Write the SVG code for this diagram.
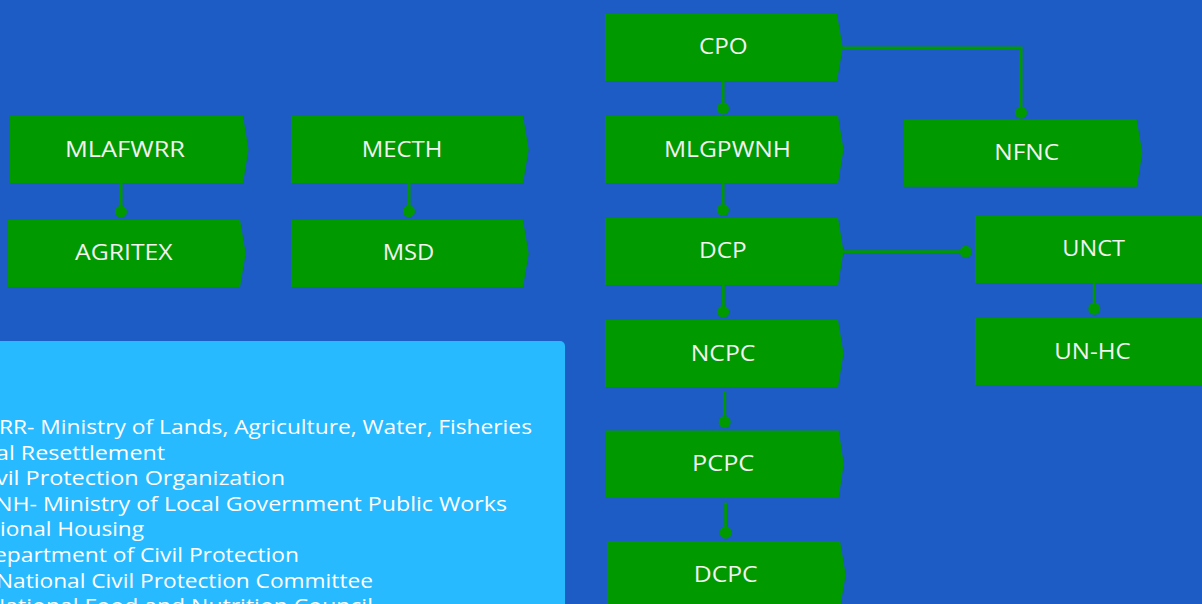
<svg xmlns="http://www.w3.org/2000/svg" width="1202" height="604" viewBox="0 0 1202 604">
<style>
.node{fill:#009900}
.lbl{font-family:"Open Sans","Noto Sans","Liberation Sans",sans-serif;font-size:22px;fill:#F2F2F2}
.leg{font-family:"Open Sans","Noto Sans","Liberation Sans",sans-serif;font-size:20px;fill:#FFFFFF}
.wire{stroke:#009900;stroke-width:3;fill:none}
.dot{fill:#009900}
</style>
<rect x="0" y="0" width="1202" height="604" fill="#1C5CC4"/>
<g id="legend">
<rect x="-20" y="341" width="585" height="300" rx="5" fill="#27BAFF"/>
<text class="leg" x="-1" y="434" textLength="533" lengthAdjust="spacingAndGlyphs">RR- Ministry of Lands, Agriculture, Water, Fisheries</text>
<text class="leg" x="-4" y="459.6" textLength="169" lengthAdjust="spacingAndGlyphs">al Resettlement</text>
<text class="leg" x="-4" y="485.2" textLength="289" lengthAdjust="spacingAndGlyphs">vil Protection Organization</text>
<text class="leg" x="-5" y="510.8" textLength="512" lengthAdjust="spacingAndGlyphs">NH- Ministry of Local Government Public Works</text>
<text class="leg" x="0" y="536.4" textLength="144" lengthAdjust="spacingAndGlyphs">ional Housing</text>
<text class="leg" x="-6" y="562" textLength="305" lengthAdjust="spacingAndGlyphs">epartment of Civil Protection</text>
<text class="leg" x="-4" y="587.6" textLength="377" lengthAdjust="spacingAndGlyphs">National Civil Protection Committee</text>
<text class="leg" x="-12" y="613.2" textLength="385" lengthAdjust="spacingAndGlyphs">National Food and Nutrition Council</text>
</g>
<g id="connectors">
<line class="wire" x1="723" y1="81" x2="723" y2="108.5"/><circle class="dot" cx="723" cy="108.5" r="6"/>
<line class="wire" x1="723" y1="183" x2="723" y2="210"/><circle class="dot" cx="723" cy="210" r="6"/>
<line class="wire" x1="723.3" y1="285" x2="723.3" y2="311.7"/><circle class="dot" cx="723.3" cy="311.7" r="6"/>
<line class="wire" x1="724.7" y1="391.7" x2="724.7" y2="422"/><circle class="dot" cx="724.7" cy="422" r="6"/>
<line class="wire" x1="725.7" y1="502.7" x2="725.7" y2="532.7"/><circle class="dot" cx="725.7" cy="532.7" r="6"/>
<polyline class="wire" points="842,48 1021,48 1021,112.7"/><circle class="dot" cx="1021" cy="112.7" r="6"/>
<line class="wire" x1="842" y1="251.7" x2="965.7" y2="251.7"/><circle class="dot" cx="965.7" cy="251.7" r="6"/>
<line class="wire" x1="1094.3" y1="282.7" x2="1094.3" y2="308.7"/><circle class="dot" cx="1094.3" cy="308.7" r="6"/>
<line class="wire" x1="121" y1="183" x2="121" y2="211.7"/><circle class="dot" cx="121" cy="211.7" r="6"/>
<line class="wire" x1="409" y1="183" x2="409" y2="211.3"/><circle class="dot" cx="409" cy="211.3" r="6"/>
</g>
<g id="MLAFWRR"><polygon class="node" points="10,116 243,116 248.5,149.5 243,183 10,183"/><text class="lbl" x="65" y="156.7" textLength="120" lengthAdjust="spacingAndGlyphs">MLAFWRR</text></g>
<g id="AGRITEX"><polygon class="node" points="8,220 240,220 245.7,253.5 240,287 8,287"/><text class="lbl" x="75" y="260.3" textLength="97.7" lengthAdjust="spacingAndGlyphs">AGRITEX</text></g>
<g id="MECTH"><polygon class="node" points="291,116 523,116 528.7,149.5 523,183 291,183"/><text class="lbl" x="361.7" y="156.7" textLength="80.7" lengthAdjust="spacingAndGlyphs">MECTH</text></g>
<g id="MSD"><polygon class="node" points="291,220 523,220 528.7,253.5 523,287 291,287"/><text class="lbl" x="382.7" y="260.3" textLength="51.7" lengthAdjust="spacingAndGlyphs">MSD</text></g>
<g id="CPO"><polygon class="node" points="605,14 837,14 842.7,47.5 837,81 605,81"/><text class="lbl" x="699" y="54" textLength="48.7" lengthAdjust="spacingAndGlyphs">CPO</text></g>
<g id="MLGPWNH"><polygon class="node" points="605,116 838,116 843.5,149.5 838,183 605,183"/><text class="lbl" x="664" y="156.7" textLength="127" lengthAdjust="spacingAndGlyphs">MLGPWNH</text></g>
<g id="DCP"><polygon class="node" points="605,218 838,218 843.5,251.5 838,285 605,285"/><text class="lbl" x="699" y="258.3" textLength="47.7" lengthAdjust="spacingAndGlyphs">DCP</text></g>
<g id="NCPC"><polygon class="node" points="605,320 838,320 843.5,353.5 838,387 605,387"/><text class="lbl" x="690.7" y="360.7" textLength="64.7" lengthAdjust="spacingAndGlyphs">NCPC</text></g>
<g id="PCPC"><polygon class="node" points="606,430.5 838.7,430.5 843.7,464 838.7,497.5 606,497.5"/><text class="lbl" x="692" y="470.7" textLength="62.3" lengthAdjust="spacingAndGlyphs">PCPC</text></g>
<g id="DCPC"><polygon class="node" points="607.3,541.3 840,541.3 845.7,574.8 840,608.3 607.3,608.3"/><text class="lbl" x="693.7" y="581.7" textLength="64" lengthAdjust="spacingAndGlyphs">DCPC</text></g>
<g id="NFNC"><polygon class="node" points="904,119.5 1136.7,119.5 1142.3,153 1136.7,186.7 904,186.7"/><text class="lbl" x="994.3" y="160" textLength="64.7" lengthAdjust="spacingAndGlyphs">NFNC</text></g>
<g id="UNCT"><polygon class="node" points="975,216 1207,216 1212.7,249.5 1207,283 975,283"/><text class="lbl" x="1062.3" y="256" textLength="62.7" lengthAdjust="spacingAndGlyphs">UNCT</text></g>
<g id="UN-HC"><polygon class="node" points="975,318 1207,318 1212.7,351.5 1207,385.3 975,385.3"/><text class="lbl" x="1054.3" y="359" textLength="76.3" lengthAdjust="spacingAndGlyphs">UN-HC</text></g>
</svg>
